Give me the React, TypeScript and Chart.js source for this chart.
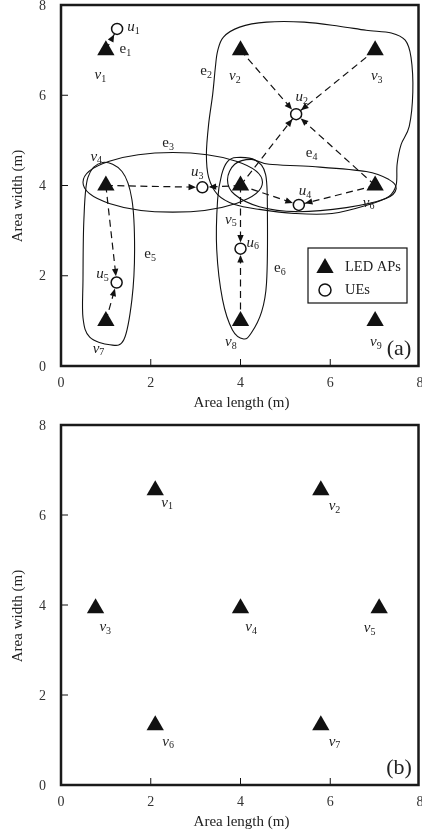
import React, { useEffect, useRef } from "react";
import { Chart, registerables } from "chart.js";
Chart.register(...registerables);

const SERIF = "'Liberation Serif', 'Times New Roman', Times, serif";
const INK = "#111";
const TEXT = "#222";

// ---- axes ----
const axisMin = 0;
const axisMax = 8;
const axisStep = 2;
const innerTicks = [2, 4, 6];
const xTitle = "Area length (m)";
const yTitle = "Area width (m)";

// ---- panel (a): LED APs ----
const apXa = [1, 4, 7, 1, 4, 7, 1, 4, 7];
const apYa = [7, 7, 7, 4, 4, 4, 1, 1, 1];
const apLabelXa = [0.82, 3.82, 6.98, 0.73, 3.73, 6.8, 0.78, 3.73, 6.96];
const apLabelYa = [6.44, 6.42, 6.42, 4.64, 3.24, 3.62, 0.38, 0.53, 0.53];

// ---- panel (a): UEs ----
const ueX = [1.25, 5.24, 3.15, 5.3, 1.24, 4.0];
const ueY = [7.47, 5.58, 3.96, 3.57, 1.85, 2.6];
const ueLabelX = [1.56, 5.31, 2.98, 5.38, 0.87, 4.22];
const ueLabelY = [7.51, 5.96, 4.29, 3.87, 2.04, 2.73];

// ---- panel (a): links (AP index -> UE index) ----
const linkAP = [0, 1, 2, 4, 5, 3, 4, 4, 5, 3, 6, 4, 7];
const linkUE = [0, 1, 1, 1, 1, 2, 2, 3, 3, 4, 4, 5, 5];

// ---- panel (a): hyperedges ----
const e2X = [3.49, 3.62, 3.98, 4.58, 5.42, 6.2, 6.8, 7.36, 7.67, 7.8, 7.84, 7.76, 7.58, 7.49, 7.47, 7.31, 6.87, 6.04, 5.2, 4.42, 3.87, 3.49, 3.29, 3.24, 3.29, 3.38, 3.44];
const e2Y = [6.98, 7.29, 7.51, 7.62, 7.62, 7.53, 7.44, 7.38, 7.22, 6.84, 6.07, 5.31, 4.91, 4.47, 4.02, 3.76, 3.58, 3.38, 3.38, 3.47, 3.58, 3.8, 4.18, 4.69, 5.36, 6.02, 6.62];
const e3Cx = 2.49;
const e3Cy = 4.07;
const e3Rx = 2.0;
const e3Ry = 0.66;
const e4X = [4.24, 4.64, 5.6, 6.8, 7.31, 7.47, 7.24, 6.36, 5.24, 4.42, 3.87, 3.71, 3.87];
const e4Y = [4.58, 4.47, 4.42, 4.31, 4.13, 3.93, 3.71, 3.51, 3.42, 3.53, 3.8, 4.13, 4.47];
const e5X = [0.93, 0.6, 0.51, 0.49, 0.49, 0.64, 1.09, 1.4, 1.58, 1.64, 1.58, 1.36];
const e5Y = [4.51, 4.18, 3.24, 1.91, 1.07, 0.64, 0.47, 0.58, 1.47, 2.58, 3.69, 4.31];
const e6X = [3.91, 4.33, 4.56, 4.6, 4.58, 4.47, 4.24, 4.07, 3.82, 3.6, 3.47, 3.49, 3.58, 3.71];
const e6Y = [4.62, 4.56, 4.24, 3.36, 1.84, 1.2, 0.73, 0.6, 0.8, 1.47, 2.58, 3.69, 4.24, 4.53];
const edgeLabelX = [1.38, 3.18, 2.33, 5.53, 1.93, 4.82];
const edgeLabelY = [7.02, 6.53, 4.93, 4.71, 2.47, 2.16];

const legendLabels = ["LED APs", "UEs"];

// ---- panel (b): LED APs ----
const apXb = [2.1, 5.79, 0.77, 4.0, 7.09, 2.1, 5.79];
const apYb = [6.55, 6.55, 3.93, 3.93, 3.93, 1.33, 1.33];
const apLabelXb = [2.31, 6.04, 0.93, 4.18, 6.82, 2.33, 6.04];
const apLabelYb = [6.27, 6.2, 3.51, 3.51, 3.49, 0.96, 0.96];

type Pt = [number, number];

function toPx(chart: any, x: number, y: number): Pt {
  return [chart.scales.x.getPixelForValue(x), chart.scales.y.getPixelForValue(y)];
}

function closedSpline(ctx: CanvasRenderingContext2D, pts: Pt[]) {
  const n = pts.length;
  ctx.beginPath();
  ctx.moveTo(pts[0][0], pts[0][1]);
  for (let i = 0; i < n; i++) {
    const p0 = pts[(i - 1 + n) % n];
    const p1 = pts[i];
    const p2 = pts[(i + 1) % n];
    const p3 = pts[(i + 2) % n];
    const c1x = p1[0] + (p2[0] - p0[0]) / 6;
    const c1y = p1[1] + (p2[1] - p0[1]) / 6;
    const c2x = p2[0] - (p3[0] - p1[0]) / 6;
    const c2y = p2[1] - (p3[1] - p1[1]) / 6;
    ctx.bezierCurveTo(c1x, c1y, c2x, c2y, p2[0], p2[1]);
  }
  ctx.closePath();
  ctx.stroke();
}

function drawSymbol(ctx: CanvasRenderingContext2D, x: number, y: number, main: string, sub: string, italic: boolean) {
  ctx.fillStyle = TEXT;
  ctx.font = `${italic ? "italic " : ""}15px ${SERIF}`;
  ctx.textAlign = "center";
  ctx.textBaseline = "middle";
  ctx.fillText(main, x, y);
  const w = ctx.measureText(main).width;
  ctx.font = `10px ${SERIF}`;
  ctx.textAlign = "left";
  ctx.fillText(sub, x + w / 2, y + 4);
}

function drawTriangle(ctx: CanvasRenderingContext2D, x: number, y: number, r: number) {
  ctx.beginPath();
  ctx.moveTo(x, y - r);
  ctx.lineTo(x + r * Math.sin((2 * Math.PI) / 3), y + r / 2);
  ctx.lineTo(x - r * Math.sin((2 * Math.PI) / 3), y + r / 2);
  ctx.closePath();
  ctx.fillStyle = INK;
  ctx.fill();
}

const AP_R = 10;
const UE_R = 5.5;

function framePlugin(panelLetter: string) {
  return {
    id: "frame" + panelLetter,
    afterDatasetsDraw(chart: any) {
      const ctx: CanvasRenderingContext2D = chart.ctx;
      const ca = chart.chartArea;
      const sx = chart.scales.x;
      const sy = chart.scales.y;
      ctx.save();
      // inner ticks
      ctx.strokeStyle = INK;
      ctx.lineWidth = 1;
      ctx.setLineDash([]);
      for (const t of innerTicks) {
        const xp = sx.getPixelForValue(t);
        ctx.beginPath();
        ctx.moveTo(xp, ca.bottom);
        ctx.lineTo(xp, ca.bottom - 7);
        ctx.stroke();
        const yp = sy.getPixelForValue(t);
        ctx.beginPath();
        ctx.moveTo(ca.left, yp);
        ctx.lineTo(ca.left + 7, yp);
        ctx.stroke();
      }
      // frame
      ctx.lineWidth = 2.5;
      ctx.strokeStyle = "#1a1a1a";
      ctx.strokeRect(ca.left, ca.top, ca.right - ca.left - 1.5, ca.bottom - ca.top);
      // tick labels (values from the scales)
      ctx.fillStyle = "#333";
      ctx.font = `14px ${SERIF}`;
      ctx.textBaseline = "middle";
      ctx.textAlign = "center";
      for (const t of sx.ticks) {
        ctx.fillText(String(t.value), sx.getPixelForValue(t.value), ca.bottom + 17);
      }
      ctx.textAlign = "right";
      for (const t of sy.ticks) {
        ctx.fillText(String(t.value), ca.left - 15, sy.getPixelForValue(t.value) + 1);
      }
      // axis titles
      ctx.fillStyle = TEXT;
      ctx.font = `15px ${SERIF}`;
      ctx.textAlign = "center";
      ctx.textBaseline = "middle";
      ctx.fillText(xTitle, (ca.left + ca.right) / 2 + 1, ca.bottom + 37);
      ctx.save();
      ctx.translate(18, ca.top + 191);
      ctx.rotate(-Math.PI / 2);
      ctx.fillText(yTitle, 0, 0);
      ctx.restore();
      // panel letter
      ctx.font = `22px ${SERIF}`;
      ctx.textAlign = "center";
      ctx.fillText(`(${panelLetter})`, ca.right - 21, ca.bottom - 17);
      ctx.restore();
    },
  };
}

const hyperPlugin = {
  id: "hyper",
  beforeDatasetsDraw(chart: any) {
    const ctx: CanvasRenderingContext2D = chart.ctx;
    ctx.save();
    ctx.strokeStyle = INK;
    ctx.lineWidth = 1.1;
    ctx.setLineDash([]);
    const shapes: [number[], number[]][] = [
      [e2X, e2Y],
      [e4X, e4Y],
      [e5X, e5Y],
      [e6X, e6Y],
    ];
    for (const [xs, ys] of shapes) {
      closedSpline(ctx, xs.map((x, i) => toPx(chart, x, ys[i])));
    }
    const [cx, cy] = toPx(chart, e3Cx, e3Cy);
    const rx = Math.abs(chart.scales.x.getPixelForValue(e3Cx + e3Rx) - cx);
    const ry = Math.abs(chart.scales.y.getPixelForValue(e3Cy + e3Ry) - cy);
    ctx.beginPath();
    ctx.ellipse(cx, cy, rx, ry, 0, 0, Math.PI * 2);
    ctx.stroke();
    ctx.restore();
  },
  afterDatasetsDraw(chart: any) {
    const ctx: CanvasRenderingContext2D = chart.ctx;
    const ca = chart.chartArea;
    ctx.save();
    // arrowheads
    ctx.fillStyle = INK;
    for (let i = 0; i < linkAP.length; i++) {
      const a = toPx(chart, apXa[linkAP[i]], apYa[linkAP[i]]);
      const u = toPx(chart, ueX[linkUE[i]], ueY[linkUE[i]]);
      const dx = u[0] - a[0];
      const dy = u[1] - a[1];
      const len = Math.hypot(dx, dy);
      const ux = dx / len;
      const uy = dy / len;
      const tipX = u[0] - ux * (UE_R + 0.8);
      const tipY = u[1] - uy * (UE_R + 0.8);
      const bx = tipX - ux * 7.5;
      const by = tipY - uy * 7.5;
      ctx.beginPath();
      ctx.moveTo(tipX, tipY);
      ctx.lineTo(bx - uy * 3.2, by + ux * 3.2);
      ctx.lineTo(bx + uy * 3.2, by - ux * 3.2);
      ctx.closePath();
      ctx.fill();
    }
    // labels
    apXa.forEach((_, i) => {
      const [x, y] = toPx(chart, apLabelXa[i], apLabelYa[i]);
      drawSymbol(ctx, x, y, "v", String(i + 1), true);
    });
    ueX.forEach((_, i) => {
      const [x, y] = toPx(chart, ueLabelX[i], ueLabelY[i]);
      drawSymbol(ctx, x, y, "u", String(i + 1), true);
    });
    edgeLabelX.forEach((_, i) => {
      const [x, y] = toPx(chart, edgeLabelX[i], edgeLabelY[i]);
      drawSymbol(ctx, x, y, "e", String(i + 1), false);
    });
    // legend
    const lx = ca.right - 112;
    const ly = ca.bottom - 118;
    ctx.strokeStyle = INK;
    ctx.lineWidth = 1.2;
    ctx.strokeRect(lx, ly, 99, 55);
    drawTriangle(ctx, lx + 17, ly + 20, AP_R);
    ctx.beginPath();
    ctx.arc(lx + 17, ly + 42, UE_R + 0.5, 0, Math.PI * 2);
    ctx.fillStyle = "#fff";
    ctx.fill();
    ctx.lineWidth = 1.5;
    ctx.stroke();
    ctx.fillStyle = TEXT;
    ctx.font = `14.5px ${SERIF}`;
    ctx.textAlign = "left";
    ctx.textBaseline = "middle";
    ctx.fillText(legendLabels[0], lx + 37, ly + 19);
    ctx.fillText(legendLabels[1], lx + 37, ly + 42);
    ctx.restore();
  },
};

const labelsBPlugin = {
  id: "labelsB",
  afterDatasetsDraw(chart: any) {
    const ctx: CanvasRenderingContext2D = chart.ctx;
    ctx.save();
    apXb.forEach((_, i) => {
      const [x, y] = toPx(chart, apLabelXb[i], apLabelYb[i]);
      drawSymbol(ctx, x, y, "v", String(i + 1), true);
    });
    ctx.restore();
  },
};

function scalesFor(xAxisHeight: number) {
  return {
    x: {
      type: "linear",
      min: axisMin,
      max: axisMax,
      ticks: { stepSize: axisStep, display: false },
      grid: { display: false, drawTicks: false },
      border: { display: false },
      afterFit: (s: any) => {
        s.height = xAxisHeight;
        s.paddingLeft = 0;
        s.paddingRight = 0;
      },
    },
    y: {
      type: "linear",
      min: axisMin,
      max: axisMax,
      ticks: { stepSize: axisStep, display: false },
      grid: { display: false, drawTicks: false },
      border: { display: false },
      afterFit: (s: any) => {
        s.width = 61;
        s.paddingTop = 0;
        s.paddingBottom = 0;
      },
    },
  };
}

function baseOptions(xAxisHeight: number) {
  return {
    responsive: false,
    animation: false,
    devicePixelRatio: 1,
    events: [],
    layout: { autoPadding: false, padding: { top: 5, right: 2, left: 0, bottom: 0 } },
    plugins: { legend: { display: false }, tooltip: { enabled: false } },
    scales: scalesFor(xAxisHeight),
  };
}

function configA(): any {
  const links = linkAP.map((a, i) => ({
    type: "scatter",
    data: [
      { x: apXa[a], y: apYa[a] },
      { x: ueX[linkUE[i]], y: ueY[linkUE[i]] },
    ],
    showLine: true,
    borderColor: INK,
    borderWidth: 1.2,
    borderDash: [7, 4.5],
    pointRadius: 0,
    order: 2,
  }));
  return {
    type: "scatter",
    data: {
      datasets: [
        {
          label: legendLabels[0],
          data: apXa.map((x, i) => ({ x, y: apYa[i] })),
          pointStyle: "triangle",
          pointRadius: AP_R,
          backgroundColor: INK,
          borderColor: INK,
          borderWidth: 0,
          order: 0,
        },
        {
          label: legendLabels[1],
          data: ueX.map((x, i) => ({ x, y: ueY[i] })),
          pointStyle: "circle",
          pointRadius: UE_R,
          backgroundColor: "#fff",
          borderColor: INK,
          borderWidth: 1.5,
          order: 0,
        },
        ...links,
      ],
    },
    options: baseOptions(54),
    plugins: [hyperPlugin, framePlugin("a")],
  };
}

function configB(): any {
  return {
    type: "scatter",
    data: {
      datasets: [
        {
          label: legendLabels[0],
          data: apXb.map((x, i) => ({ x, y: apYb[i] })),
          pointStyle: "triangle",
          pointRadius: AP_R,
          backgroundColor: INK,
          borderColor: INK,
          borderWidth: 0,
        },
      ],
    },
    options: baseOptions(52),
    plugins: [labelsBPlugin, framePlugin("b")],
  };
}

export default function App() {
  const refA = useRef<HTMLCanvasElement | null>(null);
  const refB = useRef<HTMLCanvasElement | null>(null);
  useEffect(() => {
    const a = new Chart(refA.current as HTMLCanvasElement, configA());
    const b = new Chart(refB.current as HTMLCanvasElement, configB());
    return () => {
      a.destroy();
      b.destroy();
    };
  }, []);
  return (
    <div style={{ position: "absolute", left: 0, top: 0, width: 422, height: 837, background: "#fff" }}>
      <canvas ref={refA} width={422} height={420} style={{ display: "block", width: 422, height: 420 }} />
      <canvas ref={refB} width={422} height={417} style={{ display: "block", width: 422, height: 417 }} />
    </div>
  );
}
